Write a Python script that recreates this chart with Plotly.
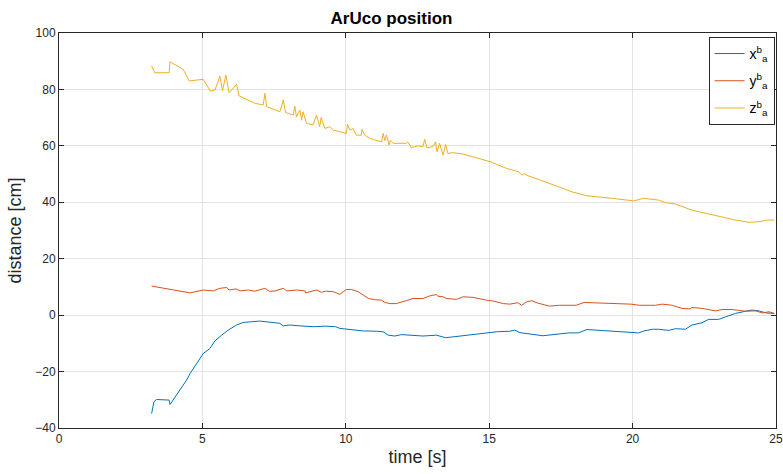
import plotly.graph_objects as go

# time [s] and distances [cm]
t_x = [3.23, 3.31, 3.40, 3.84, 3.87, 4.45, 4.57, 5.03, 5.26, 5.44, 5.67, 5.90, 6.19, 6.42, 6.65, 7.00, 7.35, 7.70, 7.82, 8.05,
       8.40, 8.86, 9.30, 9.65, 9.79, 10.14, 10.61, 11.07, 11.30, 11.48, 11.71, 11.94, 12.34, 12.69, 13.16, 13.48, 13.74, 14.21,
       14.67, 15.03, 15.26, 15.72, 15.89, 16.07, 16.49, 16.87, 17.77, 18.10, 18.41, 19.28, 20.04, 20.21, 20.40, 20.69, 20.90,
       21.26, 21.50, 21.84, 22.07, 22.42, 22.65, 23.00, 23.24, 23.59, 23.94, 24.17, 24.41, 24.64, 24.94]
x_vals = [-34.9, -30.7, -29.9, -30.1, -31.7, -23.0, -20.7, -13.6, -11.8, -9.1, -7.1, -5.3, -3.5, -2.6, -2.4, -2.1, -2.5, -2.9, -3.8, -3.5,
          -3.8, -4.1, -3.9, -4.1, -4.7, -5.1, -5.6, -5.7, -5.9, -7.1, -7.4, -6.9, -7.2, -7.4, -7.1, -8.0, -7.7, -7.1,
          -6.5, -6.1, -5.9, -5.7, -5.3, -6.2, -6.7, -7.3, -6.3, -6.3, -5.1, -5.7, -6.1, -6.3, -5.6, -5.0, -5.0,
          -5.4, -4.8, -5.0, -3.5, -2.7, -1.5, -1.5, -0.6, 0.6, 1.4, 1.8, 1.5, 0.8, 0.6]

t_y = [3.23, 3.40, 3.87, 4.57, 5.03, 5.38, 5.61, 5.85, 5.93, 6.17, 6.31, 6.60, 6.83, 7.18, 7.33, 7.50, 7.82, 7.94, 8.28, 8.57,
       8.60, 8.98, 9.15, 9.30, 9.56, 9.79, 10.02, 10.20, 10.43, 10.61, 10.79, 11.00, 11.25, 11.36, 11.54, 11.76, 11.99, 12.16,
       12.34, 12.69, 12.92, 13.16, 13.21, 13.39, 13.51, 13.86, 14.09, 14.44, 14.91, 15.14, 15.49, 15.72, 16.00, 16.13, 16.30,
       16.49, 16.68, 16.87, 17.10, 17.45, 18.03, 18.31, 19.18, 19.94, 20.23, 20.80, 21.03, 21.38, 21.72, 22.00, 22.07, 22.42,
       22.89, 23.12, 23.47, 23.93, 24.29, 24.52, 24.76, 24.94]
y_vals = [10.3, 10.0, 8.9, 7.9, 8.9, 8.6, 9.5, 9.8, 8.9, 9.3, 8.6, 8.9, 8.5, 9.5, 8.5, 8.5, 9.5, 8.6, 8.9, 8.6,
          7.9, 8.9, 8.1, 8.5, 8.3, 7.4, 9.1, 9.1, 8.3, 7.1, 5.9, 5.5, 5.3, 4.5, 4.1, 4.1, 4.7, 5.3,
          5.9, 5.9, 6.8, 7.3, 6.7, 6.5, 5.9, 5.6, 6.5, 6.3, 5.3, 5.0, 4.1, 3.9, 4.4, 3.5, 4.7,
          5.1, 4.3, 3.9, 3.2, 3.5, 3.5, 4.5, 4.1, 3.9, 3.5, 3.5, 3.9, 3.5, 2.4, 2.2, 2.7, 2.4,
          1.5, 2.0, 2.0, 1.4, 1.5, 0.8, 1.2, 0.6]

t_z = [3.23, 3.34, 3.84, 3.87, 4.33, 4.54, 5.03, 5.28, 5.44, 5.61, 5.70, 5.82, 5.93, 6.19, 6.28, 6.54, 6.83, 7.12, 7.18, 7.24,
       7.70, 7.82, 7.90, 8.17, 8.22, 8.28, 8.40, 8.46, 8.51, 8.63, 8.86, 8.98, 9.09, 9.14, 9.27, 9.44, 9.56, 9.79, 10.02,
       10.06, 10.14, 10.25, 10.37, 10.54, 10.56, 10.66, 10.84, 11.25, 11.30, 11.36, 11.42, 11.51, 11.55, 11.65, 11.88, 12.11,
       12.16, 12.28, 12.51, 12.69, 12.75, 12.83, 13.04, 13.13, 13.18, 13.27, 13.39, 13.48, 13.56, 13.74, 14.09, 14.44, 15.03,
       15.61, 16.03, 16.14, 16.22, 16.35, 16.61, 17.07, 17.42, 17.89, 18.41, 19.28, 20.04, 20.38, 20.90, 21.14, 21.49, 22.07,
       22.77, 23.12, 23.59, 24.06, 24.41, 24.70, 24.94]
z_vals = [88.3, 85.9, 85.9, 89.8, 87.1, 83.0, 83.6, 79.4, 79.8, 84.7, 79.5, 85.1, 78.8, 81.8, 77.7, 76.5, 75.1, 74.5, 78.6, 73.9,
          72.1, 76.2, 71.8, 70.9, 74.1, 70.3, 72.7, 69.1, 72.1, 68.0, 67.4, 70.9, 66.8, 70.0, 66.2, 66.8, 65.6, 65.0, 64.4,
          67.7, 65.6, 66.2, 63.8, 63.8, 65.8, 63.8, 62.6, 61.4, 64.4, 61.9, 63.9, 60.3, 62.0, 60.9, 60.9, 60.9,
          61.4, 59.4, 60.0, 59.7, 62.3, 59.3, 59.7, 61.4, 57.9, 60.9, 56.7, 60.5, 57.3, 57.6, 57.1, 56.1, 54.4,
          52.0, 50.8, 49.6, 50.2, 49.4, 48.5, 46.7, 45.5, 43.7, 42.3, 41.4, 40.5, 41.4, 40.8, 39.9, 39.4, 37.2,
          35.5, 34.9, 33.7, 32.9, 33.1, 33.7, 33.7]

x_ticks = [0, 5, 10, 15, 20, 25]
y_ticks = [-40, -20, 0, 20, 40, 60, 80, 100]

FONT = "Liberation Sans"

fig = go.Figure()
fig.add_trace(go.Scatter(x=t_x, y=x_vals, mode="lines", name="x<sup>b</sup><sub>a</sub>", legendgroup="g1",
                         line=dict(color="#0072BD", width=1)))
fig.add_trace(go.Scatter(x=t_y, y=y_vals, mode="lines", name="y<sup>b</sup><sub>a</sub>", legendgroup="g2",
                         line=dict(color="#D95319", width=1)))
fig.add_trace(go.Scatter(x=t_z, y=z_vals, mode="lines", name="z<sup>b</sup><sub>a</sub>", legendgroup="g3",
                         line=dict(color="#EDB120", width=1)))

axis_common = dict(showline=True, linecolor="#262626", linewidth=1, mirror="ticks",
                   ticks="inside", ticklen=5, tickcolor="#262626", automargin=False,
                   showgrid=True, gridcolor="#e3e3e3", gridwidth=1, zeroline=False,
                   tickfont=dict(family=FONT, size=12, color="#262626"))

fig.update_layout(
    width=783, height=474,
    margin=dict(l=59, r=7, t=33, b=46),
    paper_bgcolor="white", plot_bgcolor="white",
    title=dict(text="<b>ArUco position</b>", x=0.5, xanchor="center", y=0.962, yanchor="middle",
               font=dict(family=FONT, size=17, color="black")),
    xaxis=dict(range=[0, 25], tickvals=x_ticks,
               title=dict(text="time [s]", font=dict(family=FONT, size=18, color="#262626"), standoff=4),
               **axis_common),
    yaxis=dict(range=[-40, 100], tickvals=y_ticks,
               title=dict(text="distance [cm]", font=dict(family=FONT, size=18, color="#262626"), standoff=8),
               **axis_common),
    legend=dict(x=0.998, y=0.99, xanchor="right", yanchor="top",
                bgcolor="white", bordercolor="#262626", borderwidth=1,
                font=dict(family=FONT, size=14, color="black"),
                itemwidth=30, tracegroupgap=6),
    showlegend=True,
)

fig.write_html("out.html")
